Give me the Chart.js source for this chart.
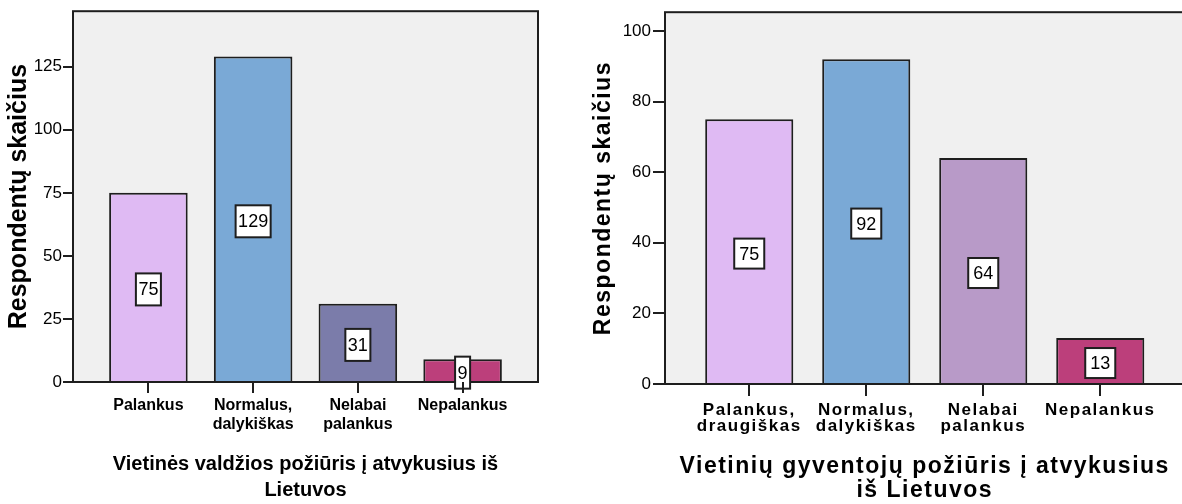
<!DOCTYPE html>
<html lang="lt">
<head>
<meta charset="utf-8">
<title>Respondentų skaičius</title>
<script src="https://cdn.jsdelivr.net/npm/chart.js@4.4.1/dist/chart.umd.min.js"></script>
<style>
  html, body { margin: 0; background: #fff; }
  body { position: relative; width: 1182px; height: 504px; overflow: hidden; }
  canvas { position: absolute; top: 0; }
  #grafikas-valdzia { left: 0; }
  #grafikas-gyventojai { left: 580px; }
</style>
</head>
<body>
<canvas id="grafikas-valdzia" width="560" height="504"></canvas>
<canvas id="grafikas-gyventojai" width="610" height="504"></canvas>
<script>
const Y_PAVADINIMAS = 'Respondentų skaičius';

const VALDZIA_KATEGORIJOS = [['Palankus'], ['Normalus,', 'dalykiškas'], ['Nelabai', 'palankus'], ['Nepalankus']];
const VALDZIA_REIKSMES = [75, 129, 31, 9];
const VALDZIA_SPALVOS = ['#dfbaf3', '#7aa9d6', '#7b7caa', '#bc3f7b'];
const VALDZIA_Y_ZYMES = [0, 25, 50, 75, 100, 125];
const VALDZIA_X_PAVADINIMAS = ['Vietinės valdžios požiūris į atvykusius iš', 'Lietuvos'];

const GYVENTOJAI_KATEGORIJOS = [['Palankus,', 'draugiškas'], ['Normalus,', 'dalykiškas'], ['Nelabai', 'palankus'], ['Nepalankus']];
const GYVENTOJAI_REIKSMES = [75, 92, 64, 13];
const GYVENTOJAI_SPALVOS = ['#dfbaf3', '#7aa9d6', '#b89ac8', '#bc3f7b'];
const GYVENTOJAI_Y_ZYMES = [0, 20, 40, 60, 80, 100];
const GYVENTOJAI_X_PAVADINIMAS = ['Vietinių gyventojų požiūris į atvykusius', 'iš Lietuvos'];

Chart.defaults.font.family = '"Liberation Sans", Arial, sans-serif';
const LINIJA = '#1e1e1e';

// pilkas fonas, rėmelis ir baltos dėžutės su reikšmėmis.
// y skalės skaičiai piešiami be tarpų, o sluoksniai su z: 1 (pavadinimai, x žymės) - su opts.tarpas
const remelis = {
    id: 'remelis',
    beforeDraw(chart) {
        const { ctx, chartArea: a } = chart;
        ctx.letterSpacing = '0px';
        ctx.save();
        ctx.fillStyle = '#f0f0f0';
        ctx.fillRect(a.left, a.top, a.width, a.height);
        ctx.restore();
    },
    afterDatasetsDraw(chart, args, opts) {
        const { ctx, chartArea: a } = chart;
        const y = chart.scales.y;
        ctx.save();
        ctx.strokeStyle = LINIJA;
        ctx.lineWidth = 2;
        ctx.strokeRect(a.left, a.top, a.width, a.height);
        ctx.font = `${opts.dydis}px "Liberation Sans", Arial, sans-serif`;
        ctx.textAlign = 'center';
        ctx.textBaseline = 'middle';
        chart.getDatasetMeta(0).data.forEach((bar, i) => {
            const v = chart.data.datasets[0].data[i].y;
            const tekstas = String(v);
            const w = ctx.measureText(tekstas).width + opts.paraste * 2;
            const h = opts.aukstis;
            const cy = y.getPixelForValue(v / 2) + opts.poslinkis;
            ctx.fillStyle = '#fff';
            ctx.fillRect(bar.x - w / 2, cy - h / 2, w, h);
            ctx.strokeRect(bar.x - w / 2, cy - h / 2, w, h);
            ctx.fillStyle = '#000';
            ctx.fillText(tekstas, bar.x, cy + 1);
        });
        ctx.restore();
        ctx.letterSpacing = opts.tarpas;
    }
};

const kurtiGrafika = (id, kategorijos, reiksmes, spalvos, yZymes, xPavadinimas, st) => new Chart(document.getElementById(id), {
    type: 'bar',
    data: {
        datasets: [{
            data: reiksmes.map((y, x) => ({ x, y })),
            backgroundColor: spalvos,
            borderColor: LINIJA,
            borderWidth: 2,
            categoryPercentage: 1,
            barPercentage: st.stulpelis
        }]
    },
    plugins: [remelis],
    options: {
        responsive: false,
        animation: false,
        events: [],
        layout: { padding: st.padding },
        plugins: {
            legend: { display: false },
            tooltip: { enabled: false },
            remelis: st.dezute
        },
        scales: {
            x: {
                type: 'linear',
                min: -0.72,
                max: 3.72,
                offset: false,
                afterBuildTicks: s => { s.ticks = kategorijos.map((_, i) => ({ value: i })); },
                afterFit: s => { s.height = st.xAukstis; },
                ticks: {
                    z: 1, autoSkip: false, maxRotation: 0, minRotation: 0,
                    padding: st.xTarpas, color: '#000', font: st.xSriftas,
                    callback: v => kategorijos[v]
                },
                grid: { z: 1, drawOnChartArea: false, offset: false, tickLength: st.xBrukšnys, color: LINIJA, lineWidth: 2 },
                border: { display: false },
                title: { display: true, text: xPavadinimas, color: '#000', font: st.xPavSriftas, padding: { top: 0, bottom: 1 } }
            },
            y: {
                min: 0,
                max: st.yMax,
                afterBuildTicks: s => { s.ticks = yZymes.map(value => ({ value })); },
                afterFit: s => { s.width = st.yPlotis; },
                ticks: { padding: st.yTarpas, color: '#000', font: st.ySriftas },
                grid: { z: 1, drawOnChartArea: false, tickLength: st.yBrukšnys, color: LINIJA, lineWidth: 2 },
                border: { display: false },
                title: { display: true, text: Y_PAVADINIMAS, color: '#000', font: st.yPavSriftas, padding: { top: st.yPavTarpas, bottom: 0 } }
            }
        }
    }
});

kurtiGrafika('grafikas-valdzia', VALDZIA_KATEGORIJOS, VALDZIA_REIKSMES, VALDZIA_SPALVOS, VALDZIA_Y_ZYMES, VALDZIA_X_PAVADINIMAS, {
    stulpelis: 0.75,
    padding: { top: 11, right: 22, left: 0, bottom: 0 },
    dezute: { tarpas: '0px', dydis: 18, paraste: 2.5, aukstis: 32, poslinkis: 2 },
    yMax: 147,
    xAukstis: 122,
    xTarpas: 3,
    xBrukšnys: 11,
    xSriftas: { size: 16, weight: 'bold', lineHeight: 1.2 },
    xPavSriftas: { size: 20, weight: 'bold', lineHeight: 1.275 },
    yPlotis: 73,
    yTarpas: 1,
    yBrukšnys: 10,
    ySriftas: { size: 17 },
    yPavSriftas: { size: 25, weight: 'bold', lineHeight: 1.2 },
    yPavTarpas: 4
});

kurtiGrafika('grafikas-gyventojai', GYVENTOJAI_KATEGORIJOS, GYVENTOJAI_REIKSMES, GYVENTOJAI_SPALVOS, GYVENTOJAI_Y_ZYMES, GYVENTOJAI_X_PAVADINIMAS, {
    stulpelis: 0.753,
    padding: { top: 10, right: 5.5, left: 0, bottom: 0 },
    dezute: { tarpas: '1.5px', dydis: 18, paraste: 5, aukstis: 30, poslinkis: 2 },
    yMax: 105.3,
    xAukstis: 120,
    xTarpas: 6,
    xBrukšnys: 12,
    xSriftas: { size: 17, weight: 'bold', lineHeight: 0.95 },
    xPavSriftas: { size: 23, weight: 'bold', lineHeight: 1.05 },
    yPlotis: 85,
    yTarpas: 2,
    yBrukšnys: 12,
    ySriftas: { size: 17 },
    yPavSriftas: { size: 23, weight: 'bold', lineHeight: 1.2 },
    yPavTarpas: 10
});
</script>
</body>
</html>
